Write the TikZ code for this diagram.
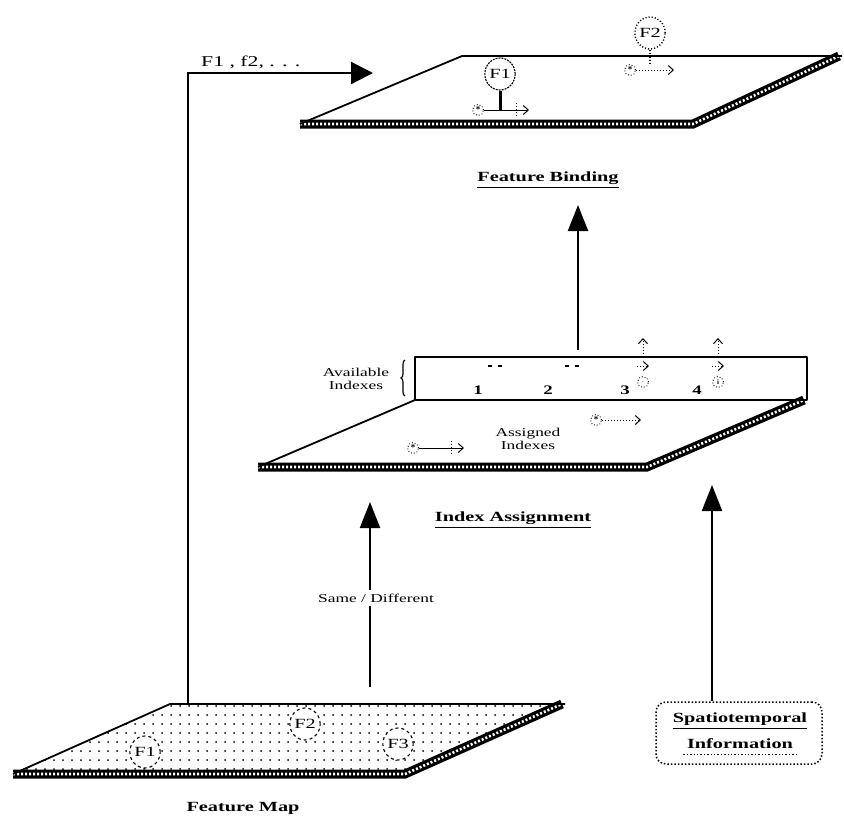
\documentclass[tikz,border=0pt]{standalone}
\usepackage{amssymb}
\usepackage{fontspec}
\setmainfont{Liberation Serif}
\newfontfamily\widefont[FakeStretch=1.45]{Liberation Serif}
\usetikzlibrary{arrows.meta}
\usetikzlibrary{patterns.meta}
\usetikzlibrary{decorations.pathreplacing}
\usetikzlibrary{shapes.geometric}
\tikzset{
  edge/.style={line width=1.8pt, line join=round},
  slab/.style={line width=9pt, line join=miter},
  slabhatch/.style={white, line width=2.6pt, dash pattern=on 2pt off 2pt},
  bigarrow/.style={line width=2.2pt, -{Triangle[length=26pt,width=20pt]}},
  tinyarrow/.style={line width=1pt, -{Straight Barb[length=5pt,width=9pt]}},
  blob/.style={draw, ellipse, line width=1.1pt, inner sep=0pt, minimum width=29pt, minimum height=32pt, font=\widefont\fontsize{14}{16}\selectfont},
  platetitle/.style={font=\widefont\bfseries\fontsize{14}{16}\selectfont},
  smalltext/.style={font=\widefont\fontsize{12}{13}\selectfont, align=center, inner sep=1pt},
  glyph/.style={draw, circle, dotted, line width=.9pt, inner sep=0pt, minimum size=11pt, font=\bfseries\small},
}

\begin{document}
\begin{tikzpicture}[x=1pt,y=-1pt]
\useasboundingbox (0,0) rectangle (844,823);

% feature binding plate
\coordinate (fbTL) at (462,56);
\coordinate (fbTR) at (842,56);
\coordinate (fbBL) at (300,124);
\coordinate (fbBR) at (693,124);
\draw [slab, yshift=-3.5pt] (fbBL) -- (fbBR) -- ([xshift=-3pt]fbTR);
\draw [slabhatch, yshift=-3.5pt] (fbBL) -- (fbBR) -- ([xshift=-3pt]fbTR);
\draw [edge] (fbBL) -- (fbTL) -- (fbTR);
\node [blob, dash pattern=on 2pt off 1pt] (bf1) at (500,74) {F1};
\draw [line width=3pt] (bf1.south) -- (500,110) coordinate (bf1foot);
\node [glyph] (bs1) at (478,110) {*};
\draw [tinyarrow] (bs1.east) -- (529,110);
\draw [line width=1pt, dotted] (516,103) -- (516,117);
\node [blob, dotted, line width=1.4pt] (bf2) at (650,33) {F2};
\draw [line width=1.3pt, dotted] (bf2.south) -- (650,66);
\node [glyph] (bs2) at (630,70) {*};
\draw [tinyarrow, dotted] (bs2.east) -- (674,70);
\node [platetitle] (fbname) at (548,180) {\underline{Feature Binding}};

% index assignment plate
\coordinate (boxNW) at (415,357);
\coordinate (boxSE) at (807,400);
\coordinate (iaTL) at (415,400);
\coordinate (iaTR) at (807,400);
\coordinate (iaBL) at (258,467);
\coordinate (iaBR) at (647,467);
\draw [slab, yshift=-3.5pt] (iaBL) -- (iaBR) -- ([xshift=-3pt]iaTR);
\draw [slabhatch, yshift=-3.5pt] (iaBL) -- (iaBR) -- ([xshift=-3pt]iaTR);
\draw [edge] (iaBL) -- (iaTL);
\draw [edge] (boxNW) rectangle (boxSE);
\node [smalltext] (avail) at (356,379) {Available\\Indexes};
\draw [line width=1.2pt, decorate, decoration={brace, amplitude=4pt}] (405,396) -- (405,360);
\node [smalltext, font=\widefont\bfseries\fontsize{13}{14}\selectfont] (n1) at (478,390) {1};
\node [smalltext, font=\widefont\bfseries\fontsize{13}{14}\selectfont] (n2) at (548,390) {2};
\node [smalltext, font=\widefont\bfseries\fontsize{13}{14}\selectfont] (n3) at (625,390) {3};
\node [smalltext, font=\widefont\bfseries\fontsize{13}{14}\selectfont] (n4) at (697,390) {4};
\draw [line width=1.2pt, dash pattern=on 4pt off 6pt] (488,366) -- (505,366);
\draw [line width=1.2pt, dash pattern=on 4pt off 6pt] (565,366) -- (582,366);
\node [glyph] (c3) at (643,382) {$\cdot$};
\node [glyph, font=\scriptsize\bfseries] (c4) at (718,382) {i};
\draw [tinyarrow, dotted] (637,366) -- (649,366);
\draw [tinyarrow, dotted] (712,366) -- (724,366);
\draw [tinyarrow, dotted] (643,357) coordinate (up3) -- (643,338);
\draw [tinyarrow, dotted] (718,357) coordinate (up4) -- (718,338);
\node [smalltext] (assigned) at (528,439) {Assigned\\Indexes};
\node [glyph] (as1) at (413,448) {*};
\draw [tinyarrow] (as1.east) -- (464,448);
\draw [line width=1pt, dotted] (451,441) -- (451,455);
\node [glyph] (as2) at (596,420) {*};
\draw [tinyarrow, dotted] (as2.east) -- (641,420);
\node [platetitle] (ianame) at (513,520) {\underline{Index Assignment}};

% feature map plate
\coordinate (fmTL) at (170,704);
\coordinate (fmTR) at (565,704);
\coordinate (fmBL) at (13,774);
\coordinate (fmBR) at (405,774);
\fill [pattern={Dots[distance=9pt, radius=1pt]}] (fmBL) -- (fmTL) -- (fmTR) -- (fmBR) -- cycle;
\draw [slab, yshift=-3.5pt] (fmBL) -- (fmBR) -- ([xshift=-3pt]fmTR);
\draw [slabhatch, yshift=-3.5pt] (fmBL) -- (fmBR) -- ([xshift=-3pt]fmTR);
\draw [edge] (fmBL) -- (fmTL) -- (fmTR);
\node [blob, dashed, fill=white] (mf1) at (145,752) {F1};
\node [blob, dashed, fill=white] (mf2) at (305,724) {F2};
\node [blob, dashed, fill=white] (mf3) at (398,744) {F3};
\node [platetitle] (fmname) at (243,808) {Feature Map};

% connectors
\coordinate (leftfoot) at (188,704);
\coordinate (listtip) at (373,73);
\draw [line width=2.2pt, -{Triangle[length=22pt,width=22pt]}] (leftfoot) |- (listtip);
\node [smalltext, font=\widefont\fontsize{15}{16}\selectfont, anchor=south west] (flist) at (200,70) {F1 , f2, . . .};

\coordinate (sdfoot) at (370,687);
\coordinate (sdtip) at (370,502);
\draw [bigarrow] (sdfoot) -- (sdtip);
\node [smalltext, fill=white, inner sep=4pt] (samediff) at (376,598) {Same / Different};

\coordinate (fbfoot) at (578,350);
\coordinate (fbtip) at (578,205);
\draw [bigarrow] (fbfoot) -- (fbtip);

\node [draw, dotted, line width=1.5pt, rounded corners=10pt, minimum width=166pt, minimum height=62pt] (stbox) at (739,733) {};
\node [platetitle] (st1) at (740,721) {\underline{Spatiotemporal}};
\node [platetitle] (st2) at (740,744) {Information};
\draw [dotted, line width=1.4pt] ([yshift=-2pt]st2.south west) -- ([yshift=-2pt]st2.south east);
\coordinate (sttip) at (712,485);
\draw [bigarrow] (stbox.north -| sttip) -- (sttip);
\end{tikzpicture}
\end{document}
